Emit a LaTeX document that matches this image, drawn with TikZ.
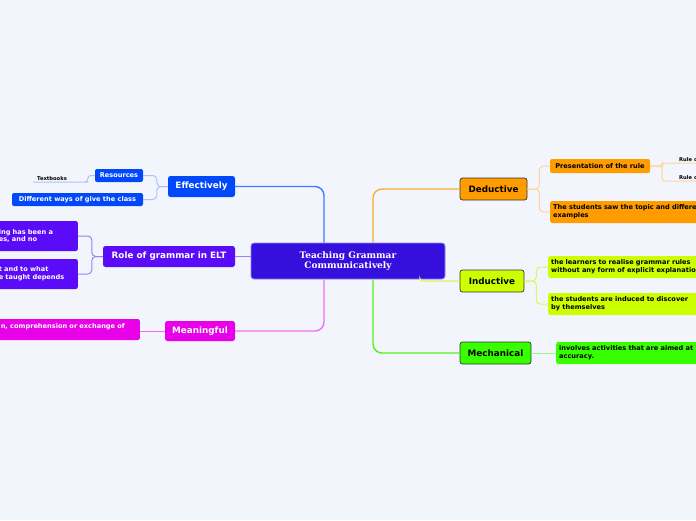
\documentclass[tikz,border=0pt]{standalone}
\usepackage{fontspec}
\setmainfont{DejaVu Sans}
\newfontfamily\serifbold{DejaVu Serif}
\definecolor{cbg}{HTML}{F3F5FD}
\definecolor{cmain}{HTML}{3510DD}
\definecolor{cmainb}{HTML}{8F80F5}
\definecolor{cblue}{HTML}{0048FA}
\definecolor{cpurp}{HTML}{5A0CF8}
\definecolor{cmag}{HTML}{E800E8}
\definecolor{corange}{HTML}{FF9D00}
\definecolor{cyell}{HTML}{CCFF00}
\definecolor{cgreen}{HTML}{38FF00}
\definecolor{lblue}{HTML}{3D7BFF}
\definecolor{lbluel}{HTML}{A9C2FF}
\definecolor{lpurp}{HTML}{9C80F5}
\definecolor{lmag}{HTML}{F070F0}
\definecolor{lorange}{HTML}{FFAA30}
\definecolor{lorangel}{HTML}{FFD59A}
\definecolor{lyell}{HTML}{DDF560}
\definecolor{lgreen}{HTML}{50F020}
\definecolor{lgreenl}{HTML}{A0F580}
\tikzset{
  mainnode/.style={fill=cmain, draw=cmainb, line width=0.8pt, rounded corners=3pt, text=white,
    font=\serifbold\bfseries\fontsize{9}{10.5}\selectfont, align=center, inner sep=0pt,
    minimum width=194pt, minimum height=36pt},
  lvl/.style={rounded corners=2.5pt, font=\bfseries\fontsize{8.8}{10}\selectfont, inner sep=0pt,
    minimum height=21pt},
  dark/.style={draw=black!80, line width=0.7pt},
  sub/.style={rounded corners=2pt, font=\bfseries\fontsize{6.6}{7.8}\selectfont, inner sep=0pt},
  multi/.style={sub, align=left, inner xsep=3pt, minimum height=22pt},
  tiny/.style={font=\bfseries\fontsize{5.2}{6}\selectfont, inner xsep=0pt, inner ysep=1.5pt, align=left},
  conn/.style={line width=1.4pt, rounded corners=9pt},
  subconn/.style={line width=1pt, rounded corners=4pt},
}
\begin{document}
\begin{tikzpicture}[x=1pt,y=-1pt]
\fill[cbg] (0,0) rectangle (696,520);
\useasboundingbox (0,0) rectangle (696,520);
\begin{scope}
\clip (0,0) rectangle (696,520);
% nodes
\node[mainnode] (c) at (348,261) {Teaching Grammar\\Communicatively};

\node[lvl, fill=cblue, text=white, minimum width=67pt] (eff) at (201.5,186.5) {Effectively};
\node[sub, fill=cblue, text=white, minimum width=48pt, minimum height=13pt] (res) at (119,175.5) {Resources};
\node[sub, fill=cblue, text=white, minimum width=131pt, minimum height=13pt] (dif) at (77.5,199.5) {Different ways of give the class};
\node[tiny, anchor=south west, inner xsep=4pt, text width=44pt] (tb) at (33,182) {Textbooks};

\node[lvl, fill=cpurp, text=white, minimum width=132pt] (role) at (169,256.5) {Role of grammar in ELT};
\node[multi, fill=cpurp, text=white, anchor=east, text width=76pt, minimum height=30pt] (rc1) at (78,236) {ing has been a\\es, and no};
\node[multi, fill=cpurp, text=white, anchor=east, text width=76pt, minimum height=30pt] (rc2) at (78,274) {t and to what\\e taught depends};

\node[lvl, fill=cmag, text=white, minimum width=70pt, minimum height=20pt] (mean) at (200,331) {Meaningful};
\node[multi, fill=cmag, text=white, anchor=east, text width=136pt, minimum height=21pt] (mc) at (140,329.5) {n, comprehension or exchange of\\\mbox{}};

\node[lvl, dark, fill=corange, minimum width=67pt, minimum height=22pt] (ded) at (493.5,189) {Deductive};
\node[sub, fill=corange, minimum width=100pt, minimum height=14pt] (pres) at (600,166) {Presentation of the rule};
\node[tiny, anchor=south west] (r1) at (679,163) {Rule of};
\node[tiny, anchor=south west] (r2) at (679,181) {Rule of};
\node[multi, fill=corange, anchor=west, text width=200pt] (stu) at (550,212) {The students saw the topic and different\\examples};

\node[lvl, dark, fill=cyell, minimum width=64pt, minimum height=22pt] (ind) at (492,281) {Inductive};
\node[multi, fill=cyell, anchor=west, text width=200pt] (ic1) at (548,267) {the learners to realise grammar rules\\without any form of explicit explanation};
\node[multi, fill=cyell, anchor=west, text width=200pt] (ic2) at (548,304) {the students are induced to discover\\by themselves};

\node[lvl, dark, fill=cgreen, minimum width=71pt, minimum height=22pt] (mech) at (495.5,353) {Mechanical};
\node[multi, fill=cgreen, anchor=west, text width=200pt] (mec) at (556,353) {involves activities that are aimed at\\accuracy.};

% main connectors
\draw[conn, lblue] ([xshift=-24pt]c.north) |- (eff.east);
\draw[conn, lorange] ([xshift=25pt]c.north) |- (ded.west);
\draw[line width=1.4pt, lpurp] (c.west |- role.east) -- (role.east);
\draw[conn, lmag] ([xshift=-24pt]c.south) |- (mean.east);
\draw[conn, lgreen] ([xshift=25pt]c.south) |- (mech.west);
\draw[line width=1.4pt, lyell, rounded corners=2pt] ([xshift=72pt]c.south) |- (ind.west);

% sub connectors
\draw[subconn, lbluel] (eff.west) -- ++(-11,0) |- (res.east);
\draw[subconn, lbluel] (eff.west) -- ++(-11,0) |- (dif.east);
\draw[subconn, lbluel, rounded corners=3pt] (res.west) -- ++(-7,0) |- (tb.south east) -- (tb.south west);
\draw[subconn, lpurp] (role.west) -- ++(-11,0) |- (rc1.east);
\draw[subconn, lpurp] (role.west) -- ++(-11,0) |- (rc2.east);
\draw[subconn, lmag] (mean.west) -- (mean.west -| mc.east);
\draw[subconn, lorangel] (ded.east) -- ++(12,0) |- (pres.west);
\draw[subconn, lorangel] (ded.east) -- ++(12,0) |- (stu.west);
\draw[subconn, lorangel, rounded corners=3pt] (pres.east) -- ++(12,0) |- (r1.south west) -- (r1.south east);
\draw[subconn, lorangel, rounded corners=3pt] (pres.east) -- ++(12,0) |- (r2.south west) -- (r2.south east);
\draw[subconn, lyell] (ind.east) -- ++(12,0) |- (ic1.west);
\draw[subconn, lyell] (ind.east) -- ++(12,0) |- (ic2.west);
\draw[subconn, lgreenl] (mech.east) -- (mec.west);
\end{scope}
\end{tikzpicture}
\end{document}
